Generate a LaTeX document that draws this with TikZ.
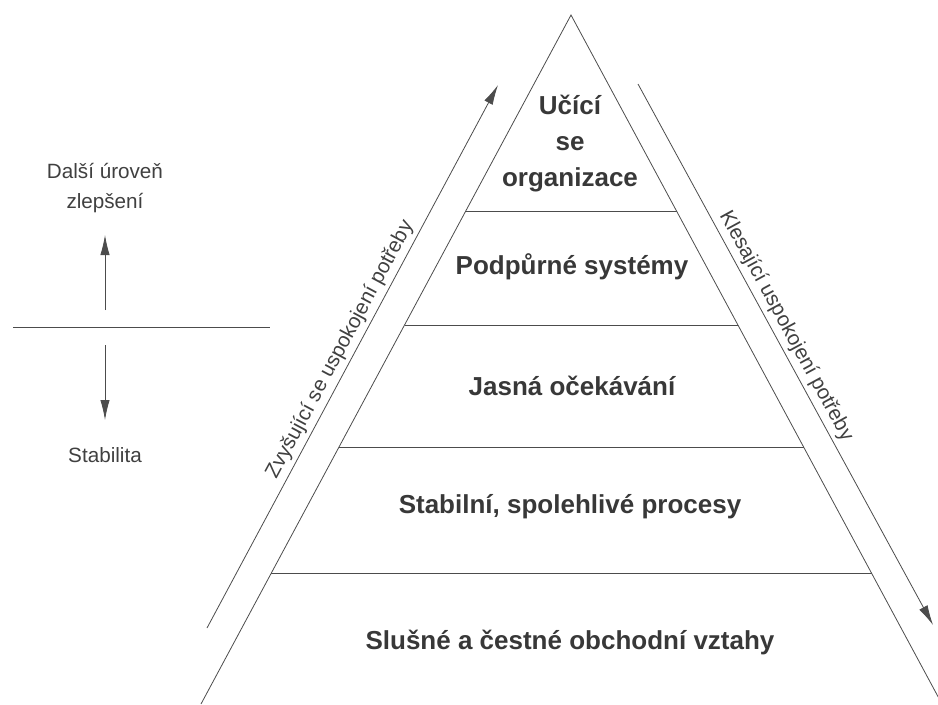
\documentclass[tikz,border=0pt]{standalone}
\usepackage{fontspec}
\setmainfont{Liberation Sans}
\usetikzlibrary{arrows.meta,calc}

\begin{document}
\begin{tikzpicture}[x=0.75pt,y=-0.75pt,
  level/.style={font=\fontsize{19.5}{27}\selectfont\bfseries,text=black!78,align=center},
  side/.style={font=\fontsize{15.5}{22.5}\selectfont,text=black!75,align=center},
  edge/.style={draw=black!70,line width=0.6pt},
  trend/.style={edge,-{Latex[length=15pt,width=7pt]}}]
  \useasboundingbox (0,0) rectangle (938,704);

  % Pyramid corners
  \coordinate (apex) at (571,15);
  \coordinate (bl) at (201,704);
  \coordinate (br) at (942,704);

  % Pyramid sides
  \draw[edge] (bl) -- (apex) -- (br);

  % Dividing lines
  \foreach \f in {0.2845,0.450,0.627,0.810}
    \draw[edge] ($(apex)!\f!(bl)$) -- ($(apex)!\f!(br)$);

  % Level labels
  \node[level] (learn) at (570,144) {Učící\\se\\organizace};
  \node[level] (support) at (572,267) {Podpůrné systémy};
  \node[level] (expect) at (572,386) {Jasná očekávání};
  \node[level] (process) at (570,507) {Stabilní, spolehlivé procesy};
  \node[level] (relation) at (570,642) {Slušné a čestné obchodní vztahy};

  % Side arrows
  \coordinate (rise-s) at (207,628);
  \coordinate (rise-e) at (498,85);
  \coordinate (fall-s) at (638,84);
  \coordinate (fall-e) at (933,625);
  \draw[trend] (rise-s) -- node[side,rotate=61.8,anchor=south,pos=0.5,inner sep=3pt] (rise) {Zvyšující se uspokojení potřeby} (rise-e);
  \draw[trend] (fall-s) -- node[side,rotate=-61.4,anchor=south,pos=0.46,inner sep=3pt] (fall) {Klesající uspokojení potřeby} (fall-e);

  % Left scale
  \coordinate (sep-l) at (13,327);
  \coordinate (sep-r) at (270,327);
  \draw[edge] (sep-l) -- (sep-r);
  \node[side] (next) at (105,188) {Další úroveň\\zlepšení};
  \node[side] (stab) at (105,455) {Stabilita};
  \coordinate (up-s) at (105,310);
  \coordinate (up-e) at (105,235);
  \coordinate (dn-s) at (105,345);
  \coordinate (dn-e) at (105,420);
  \draw[trend] (up-s) -- (up-e);
  \draw[trend] (dn-s) -- (dn-e);
\end{tikzpicture}
\end{document}
